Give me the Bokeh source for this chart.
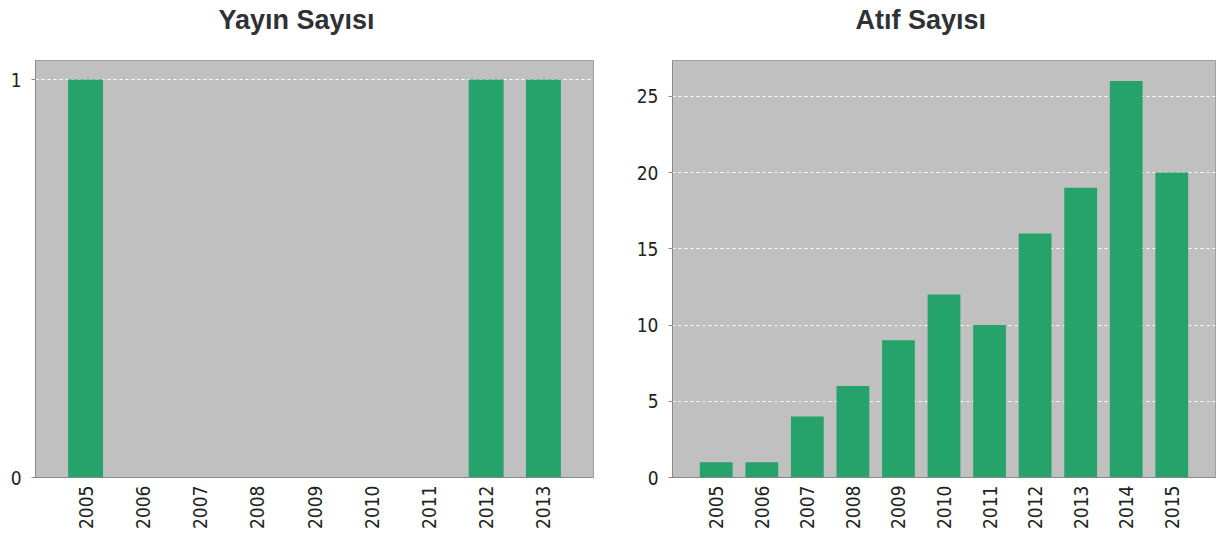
import math
from bokeh.plotting import figure
from bokeh.layouts import row
from bokeh.models import FactorRange, Range1d, FixedTicker, Title
from bokeh.embed import file_html
from bokeh.resources import INLINE

# ---- data ----
pub_years = ["2005", "2006", "2007", "2008", "2009", "2010", "2011", "2012", "2013"]
pub_counts = [1, 0, 0, 0, 0, 0, 0, 1, 1]
pub_ticks = [0, 1]

cit_years = ["2005", "2006", "2007", "2008", "2009", "2010", "2011", "2012", "2013", "2014", "2015"]
cit_counts = [1, 1, 4, 6, 9, 12, 10, 16, 19, 26, 20]
cit_ticks = [0, 5, 10, 15, 20, 25]

BAR = "#26a36b"
BG = "#c0c0c0"
TICK_FONT = "DejaVu Sans Condensed"


def make(years, counts, ticks, title, width, mb_left, mb_right, pad, bar_w, y_end):
    p = figure(
        x_range=FactorRange(factors=years, range_padding=pad, range_padding_units="absolute"),
        y_range=Range1d(0, y_end),
        width=width, height=538,
        output_backend="svg", toolbar_location=None,
        title_location=None,
        min_border_left=mb_left, min_border_right=mb_right,
        min_border_top=60, min_border_bottom=61,
        background_fill_color=BG, border_fill_color="white",
        outline_line_color="#a0a0a0",
    )
    p.vbar(x=years, top=counts, width=bar_w, fill_color=BAR, line_color=None)

    # spacer between title and plot frame
    p.add_layout(Title(text=" ", text_font_size="17px", standoff=0), "above")
    p.add_layout(Title(
        text=title, align="left", vertical_align="top", offset=183,
        text_font="Liberation Sans", text_font_size="27px", text_font_style="bold",
        text_color="#2e3136", standoff=6,
    ), "above")

    p.xgrid.grid_line_color = None
    p.ygrid.grid_line_color = "white"
    p.ygrid.grid_line_dash = "3 3"
    p.yaxis.ticker = FixedTicker(ticks=ticks)

    p.axis.axis_line_color = "#888888"
    p.axis.major_label_text_font = TICK_FONT
    p.axis.major_label_text_font_size = "19px"
    p.axis.major_label_text_color = "#222222"
    p.axis.minor_tick_line_color = None

    p.yaxis.major_tick_out = 4
    p.yaxis.major_tick_in = 0
    p.yaxis.major_tick_line_color = "#888888"
    p.yaxis.major_label_standoff = 10

    p.xaxis.major_tick_line_color = None
    p.xaxis.major_tick_out = 0
    p.xaxis.major_tick_in = 0
    p.xaxis.major_label_orientation = math.pi / 2
    p.xaxis.major_label_standoff = 8
    return p


p1 = make(pub_years, pub_counts, pub_ticks, "Yayın Sayısı", 600, 35, 7, 0.375, 0.61, 1.048)
p2 = make(cit_years, cit_counts, cit_ticks, "Atıf Sayısı", 617, 72, 2, 0.46, 0.72, 27.35)

layout = row(p1, p2, spacing=0)
open("out.html", "w").write(file_html(layout, INLINE))
